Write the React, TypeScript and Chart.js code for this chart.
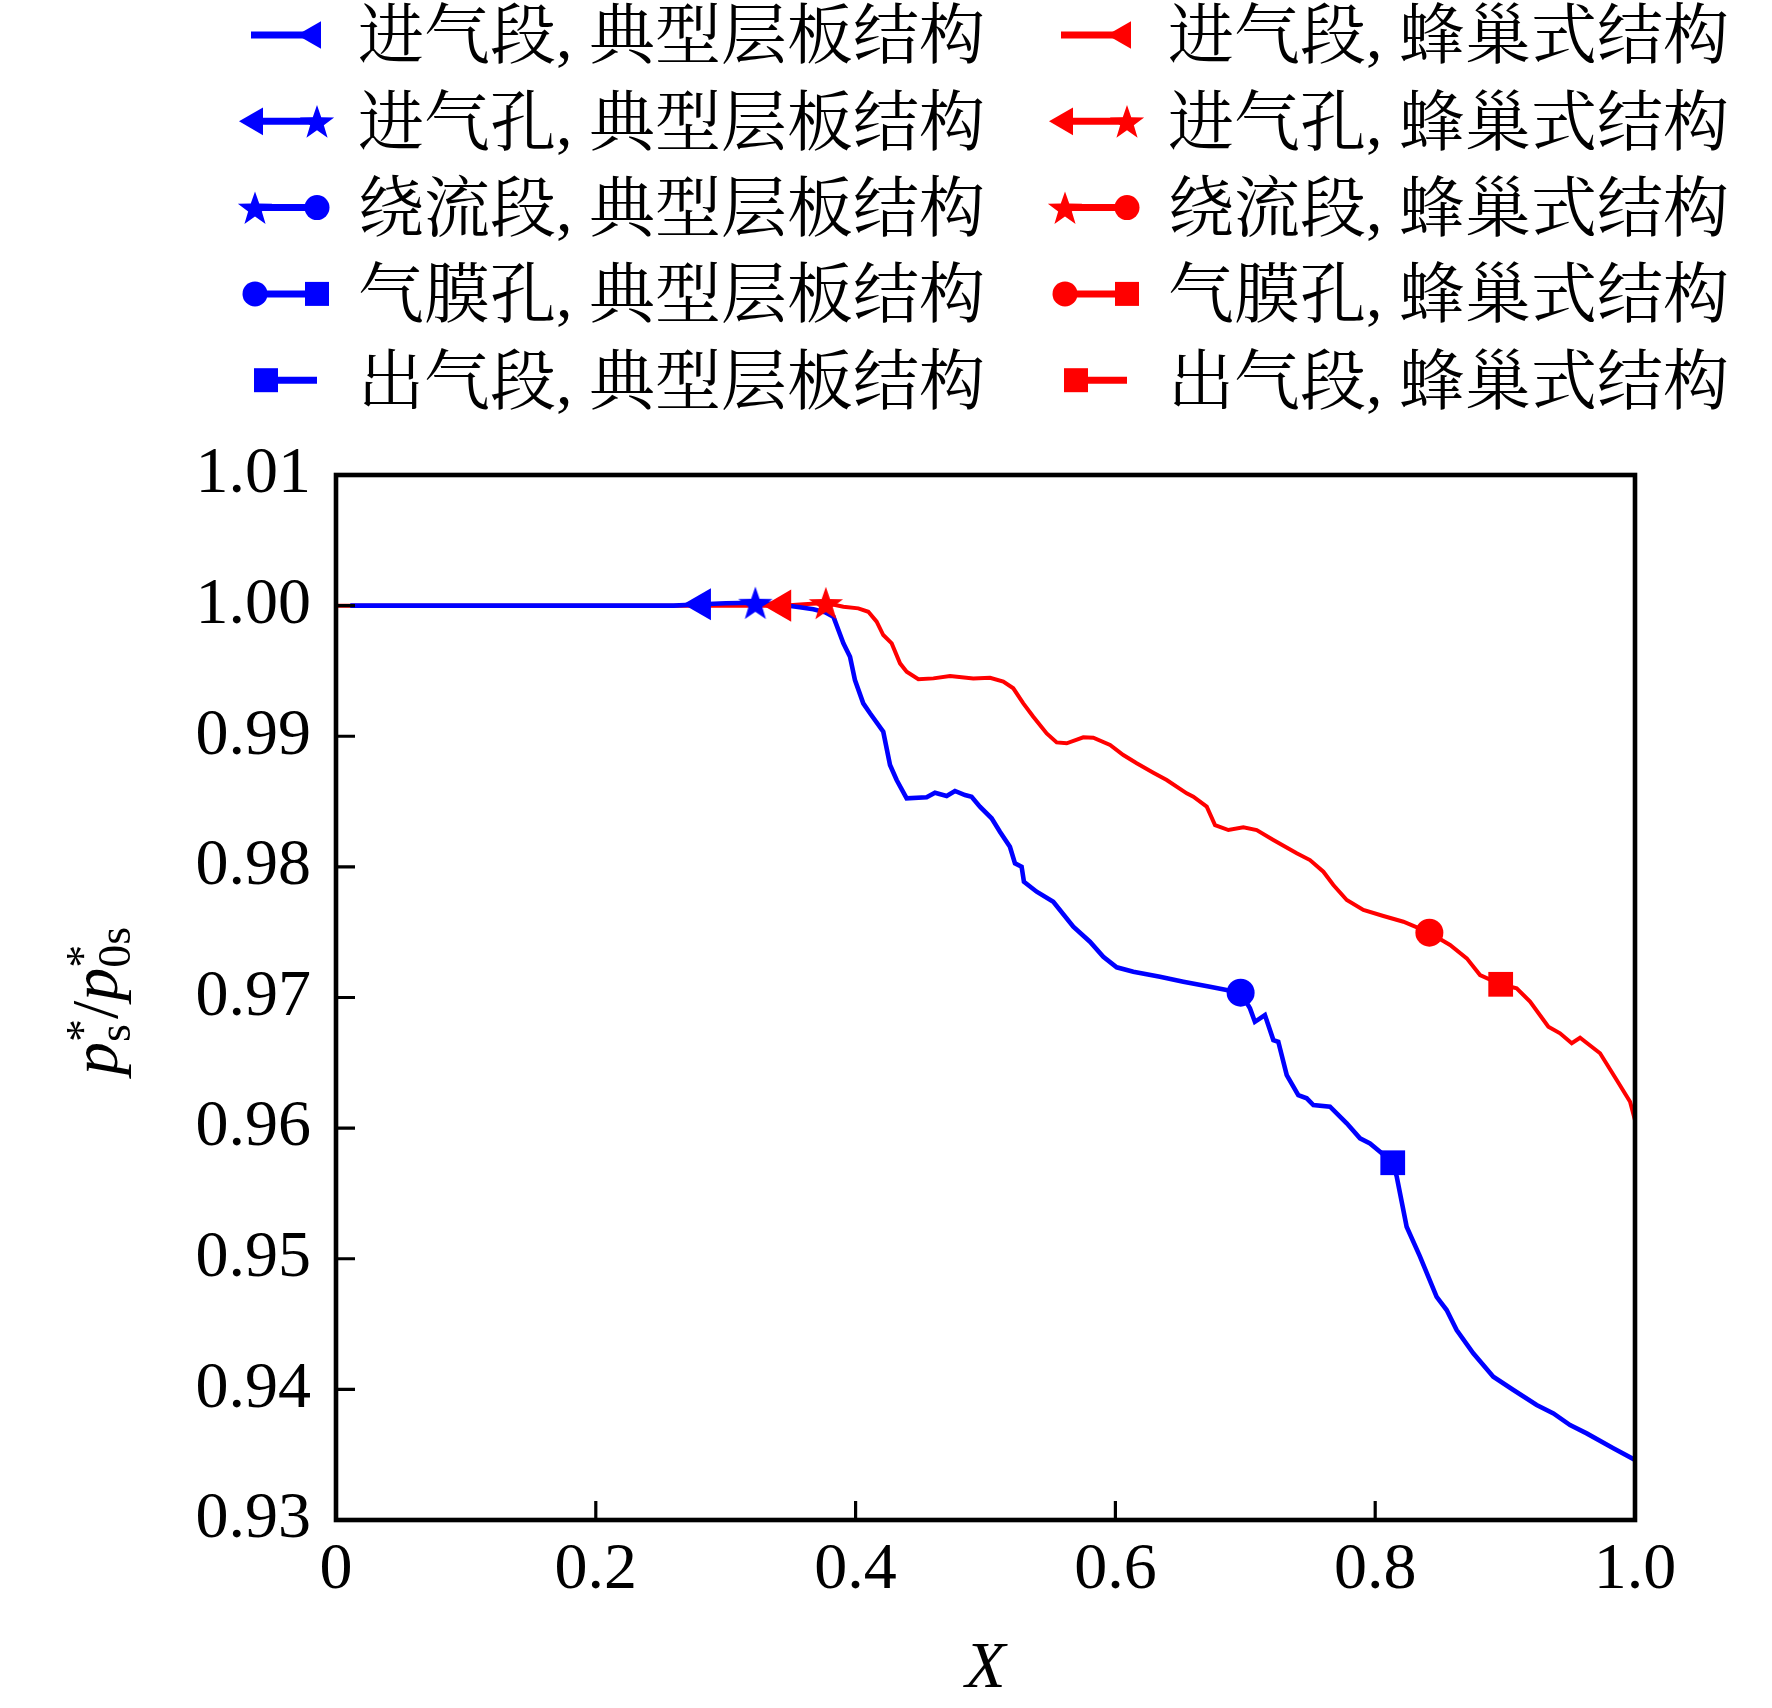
import React, { useEffect, useRef } from 'react';
import { Chart, registerables } from 'chart.js';

Chart.register(...registerables);

const BLUE = '#0000ff';
const RED = '#ff0000';
const SERIF = '"Liberation Serif", "Times New Roman", serif';
const CJK = '"Liberation Serif", "Noto Serif CJK SC", "Noto Sans CJK SC", serif';

// 典型层板结构
const BLUE_X = [
  0.011, 0.1, 0.2, 0.26, 0.2815, 0.3, 0.3228, 0.34, 0.357, 0.3675, 0.3765, 0.3829, 0.3906, 0.3957,
  0.3995, 0.4059, 0.4111, 0.4213, 0.4265, 0.4316, 0.4393, 0.4547, 0.4611, 0.4701, 0.4765, 0.4842,
  0.4893, 0.4957, 0.5047, 0.5111, 0.5188, 0.5227, 0.5278, 0.5296, 0.5394, 0.5522, 0.5676, 0.5804,
  0.5907, 0.601, 0.6138, 0.6343, 0.6523, 0.6728, 0.6964, 0.7036, 0.7074, 0.7151, 0.7216, 0.7254,
  0.7319, 0.7408, 0.7473, 0.7524, 0.7652, 0.7781, 0.7883, 0.796, 0.8037, 0.8135, 0.8166, 0.8242,
  0.8345, 0.8473, 0.855, 0.8627, 0.8755, 0.8909, 0.9064, 0.9243, 0.9372, 0.95, 0.9628, 0.9833, 1.0,
];
const BLUE_P = [
  1.0, 1.0, 1.0, 1.0, 1.0001, 1.00018, 1.00022, 1.0001, 0.99987, 0.99972, 0.9995, 0.99915, 0.99711, 0.99609,
  0.9943, 0.99252, 0.99176, 0.99035, 0.9878, 0.98665, 0.98525, 0.98533, 0.98568, 0.98543, 0.98581, 0.9855,
  0.98537, 0.98461, 0.98372, 0.98269, 0.98154, 0.98027, 0.98001, 0.97886, 0.9781, 0.97733, 0.97542, 0.97427,
  0.97312, 0.97231, 0.97197, 0.97159, 0.97121, 0.97082, 0.97037, 0.96917, 0.96814, 0.96866, 0.96674, 0.96661,
  0.96406, 0.96253, 0.96228, 0.96177, 0.96164, 0.96037, 0.95922, 0.95883, 0.95819, 0.95735, 0.95628, 0.95245,
  0.95016, 0.94709, 0.94607, 0.94454, 0.94276, 0.94097, 0.93995, 0.9388, 0.93816, 0.93727, 0.93663, 0.93549, 0.9346,
];
// section boundaries (marker positions)
const BLUE_MARK_X = [0.2815, 0.3228, 0.6964, 0.8135];

// 蜂巢式结构
const RED_X = [
  0.0, 0.1, 0.2, 0.3, 0.3433, 0.36, 0.3771, 0.3906, 0.4021, 0.4098, 0.4162, 0.4213, 0.4278, 0.4342,
  0.4393, 0.4483, 0.4599, 0.4727, 0.4906, 0.5035, 0.5137, 0.5214, 0.5291, 0.5368, 0.5471, 0.5548,
  0.5625, 0.5753, 0.583, 0.5959, 0.6061, 0.6164, 0.6292, 0.6395, 0.6549, 0.66, 0.6703, 0.6767,
  0.687, 0.6985, 0.7088, 0.7216, 0.7396, 0.7498, 0.7601, 0.7678, 0.7781, 0.7909, 0.8063, 0.8217,
  0.8417, 0.8576, 0.8705, 0.8807, 0.8966, 0.9089, 0.9192, 0.9333, 0.9423, 0.9513, 0.9577, 0.9731,
  0.9859, 0.9962, 1.0,
];
const RED_P = [
  1.0, 1.0, 1.0, 1.0, 1.0, 1.0001, 1.0002, 0.99991, 0.99979, 0.99953, 0.99877, 0.99775, 0.99711, 0.99558,
  0.99494, 0.99436, 0.99443, 0.99461, 0.99443, 0.99448, 0.99418, 0.99367, 0.99252, 0.9915, 0.99022, 0.98953,
  0.98946, 0.98992, 0.98989, 0.98933, 0.98856, 0.98793, 0.98721, 0.98665, 0.98563, 0.98537, 0.98461, 0.9832,
  0.98282, 0.98303, 0.98282, 0.98206, 0.98104, 0.98052, 0.97963, 0.97861, 0.97746, 0.9767, 0.97624, 0.9758,
  0.97496, 0.97402, 0.973, 0.97172, 0.97101, 0.9707, 0.96968, 0.96776, 0.96726, 0.9665, 0.96692, 0.96573,
  0.96368, 0.96202, 0.9606,
];
const RED_MARK_X = [0.3433, 0.3771, 0.8417, 0.8966];

const SECTIONS = ['进气段', '进气孔', '绕流段', '气膜孔', '出气段'];
const STRUCTURES = ['典型层板结构', '蜂巢式结构'];

const X_TICKS = [0, 0.2, 0.4, 0.6, 0.8, 1.0];
const X_LABELS = ['0', '0.2', '0.4', '0.6', '0.8', '1.0'];
const Y_TICKS = [0.93, 0.94, 0.95, 0.96, 0.97, 0.98, 0.99, 1.0, 1.01];
const Y_LABELS = ['0.93', '0.94', '0.95', '0.96', '0.97', '0.98', '0.99', '1.00', '1.01'];

// marker kinds at the 4 section boundaries
const MARKERS = ['triangle', 'star', 'circle', 'rect'];

function starPath(g: CanvasRenderingContext2D, x: number, y: number, R: number) {
  const r = R * 0.4;
  g.beginPath();
  for (let i = 0; i < 10; i++) {
    const a = -Math.PI / 2 + (i * Math.PI) / 5;
    const rr = i % 2 ? r : R;
    const px = x + Math.cos(a) * rr;
    const py = y + Math.sin(a) * rr;
    if (i) g.lineTo(px, py); else g.moveTo(px, py);
  }
  g.closePath();
}

function starImage(color: string, R: number) {
  const c = document.createElement('canvas');
  const s = Math.ceil(R * 2 + 2);
  c.width = s;
  c.height = s;
  const g = c.getContext('2d')!;
  starPath(g, s / 2, s / 2 + R * 0.1, R);
  g.fillStyle = color;
  g.fill();
  return c;
}

function drawMarker(g: CanvasRenderingContext2D, kind: string, x: number, y: number, r: number) {
  if (kind === 'star') {
    starPath(g, x, y + r * 0.1, r);
    g.fill();
    return;
  }
  g.beginPath();
  if (kind === 'triangle') {
    g.moveTo(x - r, y);
    g.lineTo(x + r / 2, y - (r * Math.sqrt(3)) / 2);
    g.lineTo(x + r / 2, y + (r * Math.sqrt(3)) / 2);
    g.closePath();
  } else if (kind === 'circle') {
    g.arc(x, y, r, 0, Math.PI * 2);
  } else {
    g.rect(x - r, y - r, 2 * r, 2 * r);
  }
  g.fill();
}

function sections(xs: number[], ps: number[], marks: number[]) {
  const bounds = [xs[0], ...marks, xs[xs.length - 1]];
  const pts = xs.map((x, i) => ({ x, y: ps[i] }));
  return SECTIONS.map((_, k) => pts.filter((p) => p.x >= bounds[k] && p.x <= bounds[k + 1]));
}

// legend drawn on canvas: each entry has a marker at both ends of a short line
const legendPlugin = {
  id: 'sectionLegend',
  afterDraw(chart: any) {
    const g: CanvasRenderingContext2D = chart.ctx;
    const colors = [BLUE, RED];
    g.save();
    STRUCTURES.forEach((st, s) => {
      const ox = s * 810;
      SECTIONS.forEach((sec, k) => {
        const y = 35 + k * 86.3;
        const L = k === 4 ? 266 : 255;
        const R = k === 0 ? 313 : 317;
        g.strokeStyle = colors[s];
        g.fillStyle = colors[s];
        g.lineWidth = 7;
        g.beginPath();
        g.moveTo(ox + (k === 0 ? 251 : L), y);
        g.lineTo(ox + (k === 4 ? 317 : R), y);
        g.stroke();
        const size: Record<string, number> = { triangle: 16, star: 18, circle: 12.5, rect: 12 };
        if (k > 0) drawMarker(g, MARKERS[k - 1], ox + L, y, size[MARKERS[k - 1]]);
        if (k < 4) drawMarker(g, MARKERS[k], ox + R, y, size[MARKERS[k]]);
        g.fillStyle = '#000';
        g.font = `66px ${CJK}`;
        g.textAlign = 'left';
        g.textBaseline = 'middle';
        g.fillText(`${sec}, ${st}`, ox + 358, y + 6);
      });
    });
    g.restore();
  },
};

// frame, inward ticks and axis titles
const framePlugin = {
  id: 'frame',
  afterDatasetsDraw(chart: any) {
    const g: CanvasRenderingContext2D = chart.ctx;
    const { left, right, top, bottom } = chart.chartArea;
    const xs = chart.scales.x;
    const ys = chart.scales.y;
    g.save();
    g.strokeStyle = '#000';
    g.lineWidth = 3.2;
    g.beginPath();
    X_TICKS.forEach((v) => {
      const px = xs.getPixelForValue(v);
      g.moveTo(px, bottom);
      g.lineTo(px, bottom - 19);
    });
    Y_TICKS.forEach((v) => {
      const py = ys.getPixelForValue(v);
      g.moveTo(left, py);
      g.lineTo(left + 19, py);
    });
    g.stroke();
    g.lineWidth = 4.6;
    g.strokeRect(left, top, right - left, bottom - top);

    // x title
    g.fillStyle = '#000';
    g.font = `italic 66px ${SERIF}`;
    g.textAlign = 'center';
    g.textBaseline = 'alphabetic';
    g.fillText('X', (left + right) / 2, 1687);

    // y title: p*_s / p*_0s
    const big = `66px ${SERIF}`;
    const bigI = `italic 66px ${SERIF}`;
    const small = `46px ${SERIF}`;
    const parts: Array<{ t: string; sup?: string }> = [
      { t: 'p' },
      { t: 's', sup: '*' },
      { t: '/' },
      { t: 'p' },
      { t: '0s', sup: '*' },
    ];
    const w = (font: string, t: string) => {
      g.font = font;
      return g.measureText(t).width;
    };
    const widths = parts.map((p, i) => {
      if (p.sup) return Math.max(w(small, p.t), w(small, p.sup));
      return w(i === 2 ? big : bigI, p.t);
    });
    const total = widths.reduce((a, b) => a + b, 0);
    g.translate(117, 1001);
    g.rotate(-Math.PI / 2);
    g.textAlign = 'left';
    let cx = -total / 2;
    parts.forEach((p, i) => {
      if (p.sup) {
        g.font = small;
        g.fillText(p.t, cx, 13);
        g.fillText(p.sup, cx, -19);
      } else {
        g.font = i === 2 ? big : bigI;
        g.fillText(p.t, cx, 0);
      }
      cx += widths[i];
    });
    g.restore();
  },
};

export default function App() {
  const ref = useRef<HTMLCanvasElement>(null);

  useEffect(() => {
    if (!ref.current) return;
    const star = { b: starImage(BLUE, 18), r: starImage(RED, 18) };
    const styleOf = (kind: string, color: string) =>
      kind === 'star' ? (color === BLUE ? star.b : star.r) : kind;
    const radius: Record<string, number> = { triangle: 18.5, star: 18, circle: 14, rect: 17.5 };

    const series = [
      { xs: BLUE_X, ps: BLUE_P, marks: BLUE_MARK_X, color: BLUE, width: 4.6, order: 5 },
      { xs: RED_X, ps: RED_P, marks: RED_MARK_X, color: RED, width: 4.0, order: 10 },
    ];

    const datasets: any[] = [];
    series.forEach((s, si) => {
      sections(s.xs, s.ps, s.marks).forEach((data, k) => {
        datasets.push({
          label: `${SECTIONS[k]}, ${STRUCTURES[si]}`,
          data,
          borderColor: s.color,
          borderWidth: s.width,
          pointRadius: 0,
          tension: 0,
          order: s.order,
        });
      });
      s.marks.forEach((mx, m) => {
        const kind = MARKERS[m];
        datasets.push({
          label: '',
          data: [{ x: mx, y: s.ps[s.xs.indexOf(mx)] }],
          showLine: false,
          pointStyle: styleOf(kind, s.color),
          pointRotation: kind === 'triangle' ? -90 : 0,
          pointRadius: radius[kind],
          pointBackgroundColor: s.color,
          pointBorderWidth: 0,
          order: si === 0 ? 0 : 1,
        });
      });
    });

    const chart = new Chart(ref.current, {
      type: 'line',
      data: { datasets },
      options: {
        animation: false,
        responsive: true,
        maintainAspectRatio: false,
        events: [],
        layout: { padding: { left: 0, top: 475, right: 137, bottom: 0 } },
        plugins: { legend: { display: false }, tooltip: { enabled: false } },
        scales: {
          x: {
            type: 'linear',
            min: 0,
            max: 1,
            grid: { display: false, drawTicks: false, tickLength: 0 },
            border: { display: false },
            afterBuildTicks: (sc: any) => {
              sc.ticks = X_TICKS.map((value) => ({ value }));
            },
            afterFit: (sc: any) => {
              sc.height = 188;
            },
            ticks: {
              autoSkip: false,
              maxRotation: 0,
              padding: 11,
              color: '#000',
              font: { family: SERIF, size: 66, lineHeight: 1.2 },
              callback: (_v: any, i: number) => X_LABELS[i],
            },
          },
          y: {
            type: 'linear',
            min: 0.93,
            max: 1.01,
            grid: { display: false, drawTicks: false, tickLength: 0 },
            border: { display: false },
            afterBuildTicks: (sc: any) => {
              sc.ticks = Y_TICKS.map((value) => ({ value }));
            },
            afterFit: (sc: any) => {
              sc.width = 336;
            },
            ticks: {
              autoSkip: false,
              padding: 25,
              color: '#000',
              font: { family: SERIF, size: 66, lineHeight: 1.2 },
              callback: (_v: any, i: number) => Y_LABELS[i],
            },
          },
        },
      },
      plugins: [framePlugin, legendPlugin],
    });

    return () => {
      chart.destroy();
    };
  }, []);

  return (
    <div style={{ position: 'fixed', left: 0, top: 0, width: 1772, height: 1708, background: '#fff' }}>
      <canvas ref={ref}></canvas>
    </div>
  );
}
